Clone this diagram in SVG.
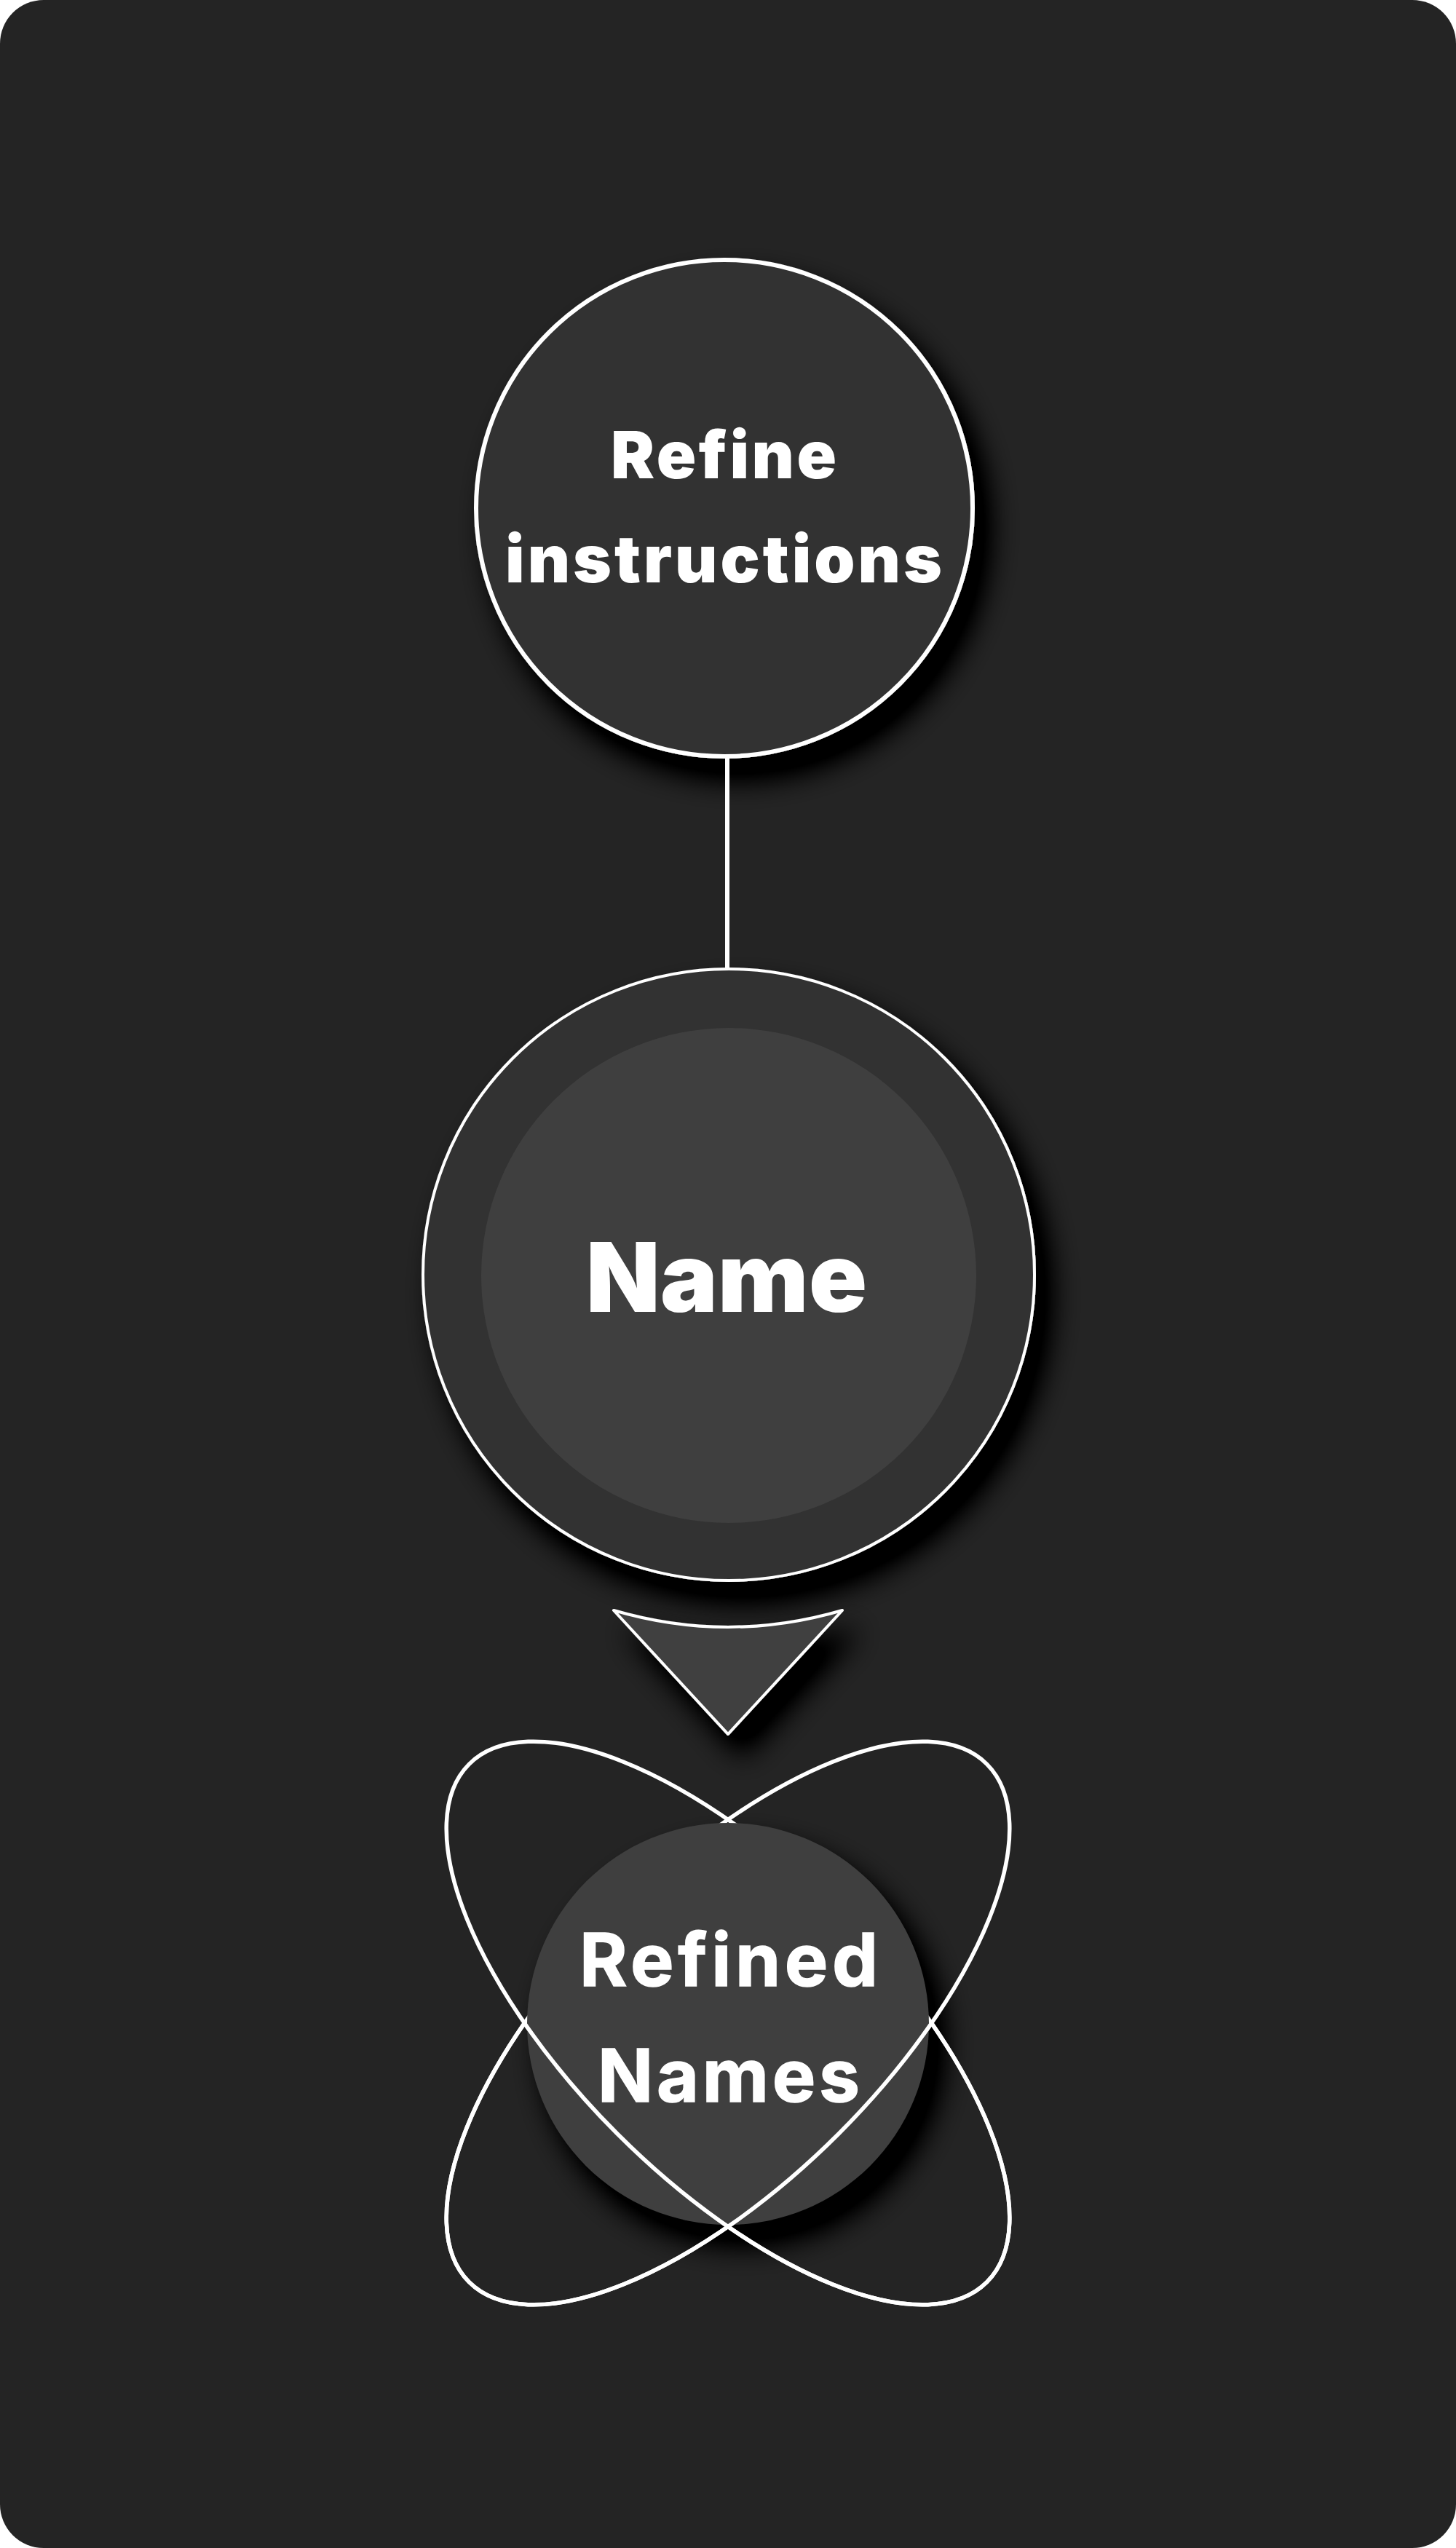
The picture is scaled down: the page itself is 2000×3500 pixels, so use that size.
<svg xmlns="http://www.w3.org/2000/svg" width="2000" height="3500" viewBox="0 0 2000 3500">
  <defs>
    <filter id="shadow" x="-30%" y="-30%" width="170%" height="170%">
      <feGaussianBlur in="SourceAlpha" stdDeviation="20" result="blur"/>
      <feOffset in="blur" dx="20" dy="28" result="off"/>
      <feComponentTransfer in="off" result="dark">
        <feFuncA type="linear" slope="1.6"/>
      </feComponentTransfer>
      <feMerge>
        <feMergeNode in="dark"/>
        <feMergeNode in="SourceGraphic"/>
      </feMerge>
    </filter>
    <filter id="shadowOnly" x="-30%" y="-30%" width="170%" height="170%">
      <feGaussianBlur in="SourceAlpha" stdDeviation="20" result="blur"/>
      <feOffset in="blur" dx="20" dy="28" result="off"/>
      <feComponentTransfer in="off">
        <feFuncA type="linear" slope="1.6"/>
      </feComponentTransfer>
    </filter>
    <clipPath id="frontHalf">
      <rect x="0" y="2779" width="2000" height="700"/>
    </clipPath>
    <style>
      .bg { fill: #242424; }
      .edge { stroke: #ffffff; stroke-width: 6; fill: none; }
      .orbit { stroke: #ffffff; stroke-width: 5.5; fill: none; }
      .lbl-heavy { font-family: Inter, "DejaVu Sans", sans-serif; font-weight: 900; fill: #ffffff; text-anchor: middle; }
      .lbl-inter { font-family: Inter, "Liberation Sans", sans-serif; font-weight: 700; fill: #ffffff; text-anchor: middle; stroke: #ffffff; stroke-width: 1.5; }
    </style>
  </defs>

  <rect class="bg" x="0" y="0" width="2000" height="3500" rx="60" ry="60"/>

  <g id="refine-instructions">
    <circle cx="995" cy="698" r="341" fill="#333333" stroke="#ffffff" stroke-width="6" filter="url(#shadow)"/>
    <text class="lbl-heavy" x="994" y="657" font-size="90" textLength="310" lengthAdjust="spacing">Refine</text>
    <text class="lbl-heavy" x="994" y="800" font-size="90" textLength="600" lengthAdjust="spacing">instructions</text>
  </g>

  <g id="name">
    <circle cx="1001" cy="1751" r="420" fill="#333333" stroke="#ffffff" stroke-width="4" filter="url(#shadow)"/>
    <circle cx="1001" cy="1752" r="340" fill="#3f3f3f"/>
    <text class="lbl-heavy" x="998" y="1802" font-size="132" textLength="386" lengthAdjust="spacing">Name</text>
  </g>

  <g id="connectors">
    <line class="edge" x1="999" y1="1041" x2="999" y2="1331"/>
  </g>

  <g id="arrow">
    <path d="M 843 2212 Q 1000 2258 1157 2212 L 1000 2382 Z" fill="#3f3f3f" stroke="#ffffff" stroke-width="4" stroke-linejoin="round" filter="url(#shadow)"/>
  </g>

  <g id="refined-names">
    <circle cx="1000" cy="2780" r="276" fill="#3f3f3f" filter="url(#shadowOnly)"/>
    <ellipse class="orbit" cx="1000" cy="2779" rx="503" ry="215" transform="rotate(45 1000 2779)"/>
    <ellipse class="orbit" cx="1000" cy="2779" rx="503" ry="215" transform="rotate(-45 1000 2779)"/>
    <circle cx="1000" cy="2780" r="276" fill="#3f3f3f"/>
    <g clip-path="url(#frontHalf)">
      <ellipse class="orbit" cx="1000" cy="2779" rx="503" ry="215" transform="rotate(45 1000 2779)"/>
      <ellipse class="orbit" cx="1000" cy="2779" rx="503" ry="215" transform="rotate(-45 1000 2779)"/>
    </g>
    <text class="lbl-inter" x="1001" y="2728" font-size="100" textLength="410" lengthAdjust="spacing">Refined</text>
    <text class="lbl-inter" x="1001" y="2887" font-size="100" textLength="360" lengthAdjust="spacing">Names</text>
  </g>
</svg>
